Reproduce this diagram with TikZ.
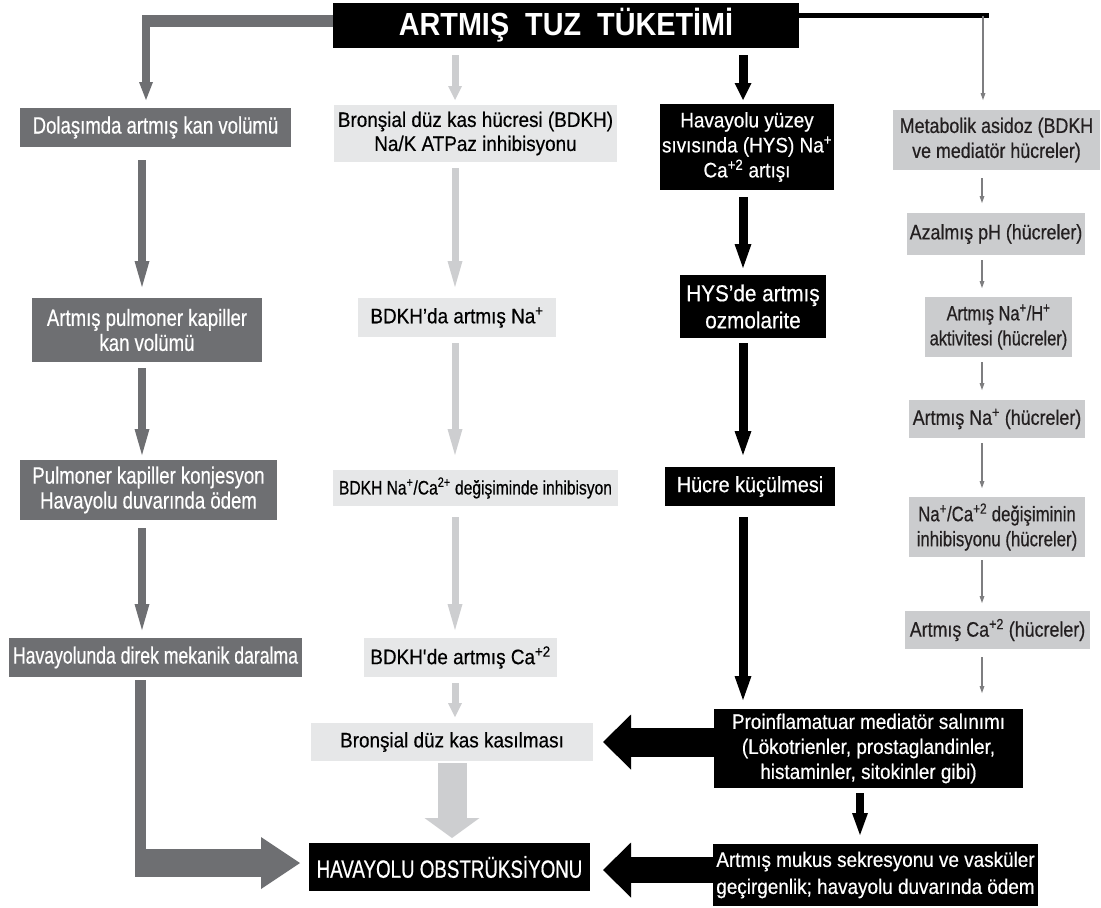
\documentclass[tikz,border=0pt]{standalone}
\usepackage{fontspec}
\setmainfont{Liberation Sans}[FakeBold=0.5]
\newfontfamily\fA[FakeStretch=0.79,FakeBold=0.5]{Liberation Sans}
\newfontfamily\fAA[FakeStretch=0.75,FakeBold=0.5]{Liberation Sans}
\newfontfamily\fB[FakeStretch=0.9,FakeBold=0.5]{Liberation Sans}
\newfontfamily\fBB[FakeStretch=0.8,FakeBold=0.5]{Liberation Sans}
\newfontfamily\fD[FakeStretch=0.85,FakeBold=0.5]{Liberation Sans}
\newfontfamily\fDD[FakeStretch=0.8,FakeBold=0.5]{Liberation Sans}
\newfontfamily\fT[FakeStretch=0.9]{Liberation Sans}
\usetikzlibrary{arrows.meta}
\definecolor{gA}{HTML}{6E6F72}
\definecolor{gB}{HTML}{E6E7E8}
\definecolor{gBa}{HTML}{CDCED0}
\definecolor{gD}{HTML}{CBCCCE}
\definecolor{gDa}{HTML}{7E7E80}
\definecolor{tx}{HTML}{231F20}
\newcommand\su[1]{\textsuperscript{#1}}
\begin{document}
\begin{tikzpicture}[x=1pt,y=-1pt,
 box/.style={rectangle, inner sep=0pt, outer sep=0pt, align=center},
 boxA/.style={box, fill=gA, text=white, font=\fA\fontsize{23.5}{25}\selectfont},
 boxB/.style={box, fill=gB, text=black, font=\fB\fontsize{21}{24}\selectfont},
 boxC/.style={box, fill=black, text=white, font=\fB\fontsize{21}{25}\selectfont},
 boxD/.style={box, fill=gD, text=tx, font=\fD\fontsize{21}{25}\selectfont},
 arA/.style={draw=gA, line width=8pt, -{Triangle[length=26pt,width=15pt,line width=0pt]}},
 arB/.style={draw=gBa, line width=7pt, -{Triangle[length=26pt,width=15pt,line width=0pt]}},
 arC/.style={draw=black, line width=9pt, -{Triangle[length=24pt,width=17pt,line width=0pt]}},
 arD/.style={draw=gDa, line width=1.6pt, -{Triangle[length=7pt,width=5pt,line width=0pt]}},
]
\useasboundingbox (0,0) rectangle (1101,908);
\fill[white] (0,0) rectangle (1101,908);

% title
\node[box, fill=black, text=white, font=\fT\bfseries\fontsize{32}{32}\selectfont,
      minimum width=466pt, minimum height=45pt] (T) at (566,25.5) {ARTMIŞ\ \ TUZ\ \ TÜKETİMİ};

% column 1
\node[boxA, minimum width=271pt, minimum height=39pt] (A1) at (155.5,127.5) {Dolaşımda artmış kan volümü};
\node[boxA, minimum width=230pt, minimum height=64pt] (A2) at (147,330) {Artmış pulmoner kapiller\\kan volümü};
\node[boxA, minimum width=257pt, minimum height=60pt] (A3) at (148.5,490) {Pulmoner kapiller konjesyon\\Havayolu duvarında ödem};
\node[boxA, font=\fAA\fontsize{23.5}{25}\selectfont, minimum width=293pt, minimum height=39pt] (A4) at (155.5,657.5) {Havayolunda direk mekanik daralma};

% column 2
\node[boxB, minimum width=283pt, minimum height=57pt] (B1) at (475.5,133.5) {Bronşial düz kas hücresi (BDKH)\\Na/K ATPaz inhibisyonu};
\node[boxB, minimum width=198pt, minimum height=39pt] (B2) at (457,317.5) {BDKH’da artmış Na\su{+}};
\node[boxB, font=\fBB\fontsize{19.5}{22}\selectfont, minimum width=285pt, minimum height=36pt] (B3) at (475.5,488) {BDKH Na\su{+}/Ca\su{2+} değişiminde inhibisyon};
\node[boxB, minimum width=193pt, minimum height=39pt] (B4) at (460.5,657.5) {BDKH\textquotesingle de artmış Ca\su{+2}};
\node[boxB, minimum width=282pt, minimum height=38pt] (B5) at (452,742) {Bronşial düz kas kasılması};
\node[box, fill=black, text=white, font=\fAA\fontsize{25}{26}\selectfont, minimum width=281pt, minimum height=48pt] (OBS) at (449.5,867) {HAVAYOLU OBSTRÜKSİYONU};

% column 3
\node[boxC, minimum width=174pt, minimum height=86pt] (C1) at (747,147) {Havayolu yüzey\\sıvısında (HYS) Na\su{+}\\Ca\su{+2} artışı};
\node[boxC, font=\fB\fontsize{23}{27}\selectfont, minimum width=146pt, minimum height=63pt] (C2) at (753,306.5) {HYS’de artmış\\ozmolarite};
\node[boxC, font=\fB\fontsize{22}{24}\selectfont, minimum width=170pt, minimum height=39pt] (C3) at (750,486.5) {Hücre küçülmesi};
\node[boxC, minimum width=309pt, minimum height=79pt] (C4) at (868.5,748.5) {Proinflamatuar mediatör salınımı\\(Lökotrienler, prostaglandinler,\\histaminler, sitokinler gibi)};
\node[boxC, font=\fB\fontsize{21}{27}\selectfont, minimum width=325pt, minimum height=62pt] (C5) at (875.5,875) {Artmış mukus sekresyonu ve vasküler\\geçirgenlik; havayolu duvarında ödem};

% column 4
\node[boxD, minimum width=207pt, minimum height=60pt] (D1) at (996.5,140) {Metabolik asidoz (BDKH\\ve mediatör hücreler)};
\node[boxD, minimum width=178pt, minimum height=42pt] (D2) at (996,234) {Azalmış pH (hücreler)};
\node[boxD, font=\fDD\fontsize{20.5}{25}\selectfont, minimum width=147pt, minimum height=60pt] (D3) at (998.5,327) {Artmış Na\su{+}/H\su{+}\\aktivitesi (hücreler)};
\node[boxD, minimum width=176pt, minimum height=38pt] (D4) at (997,419) {Artmış Na\su{+} (hücreler)};
\node[boxD, font=\fDD\fontsize{21}{25}\selectfont, minimum width=176pt, minimum height=60pt] (D5) at (997,527) {Na\su{+}/Ca\su{+2} değişiminin\\inhibisyonu (hücreler)};
\node[boxD, minimum width=185pt, minimum height=38pt] (D6) at (997.5,630) {Artmış Ca\su{+2} (hücreler)};

% column x positions
\coordinate (c1) at (142,0);
\coordinate (c2) at (455,0);
\coordinate (c3) at (743,0);
\coordinate (c4) at (982,0);
\coordinate (c5) at (860,0);
\coordinate (tA) at (146,21);
\coordinate (tD) at (989,15.5);
\coordinate (c4t) at (983,0);
\coordinate (gL) at (140.5,0);

% top connectors
\draw[gA, line width=12pt] (T.west |- tA) -- ([xshift=-4pt]tA);
\draw[arA, -{Triangle[length=18pt,width=14pt,line width=0pt]}, shorten >=8pt] ([yshift=6pt]tA) -- (A1.north -| tA);
\draw[arB, -{Triangle[length=14pt,width=14pt,line width=0pt]}, shorten <=7pt, shorten >=5pt] (T.south -| c2) -- (B1.north -| c2);
\draw[arC, -{Triangle[length=17pt,width=17pt,line width=0pt]}, shorten <=7pt, shorten >=4pt] (T.south -| c3) -- (C1.north -| c3);
\draw[black, line width=5pt] (T.east |- tD) -- (tD);
\draw[arD, shorten >=10pt] (c4t |- tD) -- (D1.north -| c4t);

% column 1 arrows
\draw[arA, shorten <=13pt, shorten >=11pt] (A1.south -| c1) -- (A2.north -| c1);
\draw[arA, shorten <=6pt, shorten >=5pt] (A2.south -| c1) -- (A3.north -| c1);
\draw[arA, shorten <=8pt, shorten >=8pt] (A3.south -| c1) -- (A4.north -| c1);

% column 2 arrows
\draw[arB, shorten <=6pt, shorten >=11pt] (B1.south -| c2) -- (B2.north -| c2);
\draw[arB, shorten <=6pt, shorten >=15pt] (B2.south -| c2) -- (B3.north -| c2);
\draw[arB, shorten <=11pt, shorten >=8pt] (B3.south -| c2) -- (B4.north -| c2);
\draw[arB, -{Triangle[length=14pt,width=14pt,line width=0pt]}, shorten <=6pt, shorten >=6pt] (B4.south -| c2) -- (B5.north -| c2);

% column 3 arrows
\draw[arC, shorten <=7pt, shorten >=7pt] (C1.south -| c3) -- (C2.north -| c3);
\draw[arC, shorten <=5pt, shorten >=12pt] (C2.south -| c3) -- (C3.north -| c3);
\draw[arC, shorten <=11pt, shorten >=9pt] (C3.south -| c3) -- (C4.north -| c3);
\draw[arC, line width=8pt, -{Triangle[length=22pt,width=16pt,line width=0pt]}, shorten <=5pt, shorten >=9pt] (C4.south -| c5) -- (C5.north -| c5);

% column 4 arrows
\draw[arD, shorten <=8pt, shorten >=10pt] (D1.south -| c4) -- (D2.north -| c4);
\draw[arD, shorten <=5pt, shorten >=9pt] (D2.south -| c4) -- (D3.north -| c4);
\draw[arD, shorten <=5pt, shorten >=10pt] (D3.south -| c4) -- (D4.north -| c4);
\draw[arD, shorten <=5pt, shorten >=9pt] (D4.south -| c4) -- (D5.north -| c4);
\draw[arD, shorten <=3pt, shorten >=8pt] (D5.south -| c4) -- (D6.north -| c4);
\draw[arD, shorten <=8pt, shorten >=16pt] (D6.south -| c4) -- (C4.north -| c4);

% big arrows
\draw[gBa, line width=29pt, -{Triangle[length=20pt,width=55pt,line width=0pt]}, shorten <=2pt, shorten >=5pt] (B5.south) -- (B5.south |- OBS.north);
\draw[black, line width=29pt, -{Triangle[length=28pt,width=55pt,line width=0pt]}, shorten >=10pt] (B5.east -| C4.west) -- (B5.east);
\coordinate (ob) at ([yshift=-3pt]OBS.east);
\draw[black, line width=26pt, -{Triangle[length=28pt,width=55pt,line width=0pt]}, shorten >=13pt] (ob -| C5.west) -- (ob);
\coordinate (g1) at (A4.south -| gL);
\coordinate (g2) at (gL |- OBS.west);
\draw[gA, line width=11pt] ([yshift=-3pt]g1) -- ([yshift=-10pt]g2);
\draw[gA, line width=28pt, -{Triangle[length=39pt,width=52pt,line width=0pt]}, shorten >=9pt] ([xshift=-5.5pt,yshift=4pt]g2) -- ([yshift=4pt]OBS.west);
\end{tikzpicture}
\end{document}
